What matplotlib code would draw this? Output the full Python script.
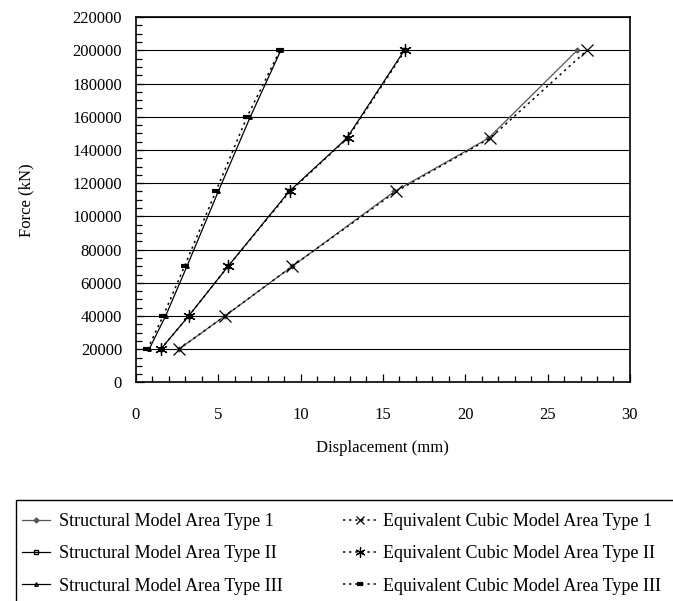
import matplotlib.pyplot as plt
from matplotlib.patches import Rectangle
from matplotlib.ticker import MultipleLocator

plt.rcParams['font.family'] = ['Liberation Serif', 'DejaVu Serif']
plt.rcParams['font.size'] = 12

# forces at each load step (kN)
force_12 = [20000, 40000, 70000, 115000, 147000, 200000]
force_3 = [20000, 40000, 70000, 115000, 160000, 200000]

# displacements (mm)
struct_1 = [2.6, 5.4, 9.5, 15.7, 21.4, 26.8]
cubic_1 = [2.6, 5.4, 9.5, 15.8, 21.5, 27.4]
struct_2 = [1.5, 3.2, 5.6, 9.3, 12.8, 16.3]
cubic_2 = [1.5, 3.2, 5.6, 9.35, 12.85, 16.35]
struct_3 = [0.8, 1.8, 3.1, 5.0, 6.95, 8.8]
cubic_3 = [0.7, 1.65, 2.95, 4.85, 6.75, 8.75]

labels = ['Structural Model Area Type 1', 'Structural Model Area Type II',
          'Structural Model Area Type III', 'Equivalent Cubic Model Area Type 1',
          'Equivalent Cubic Model Area Type II', 'Equivalent Cubic Model Area Type III']

fig = plt.figure(figsize=(6.73, 6.01), dpi=100)
ax = fig.add_axes([0.202, 0.3636, 0.734, 0.608])

dots = (0, (1.5, 2.5))
h1, = ax.plot(struct_1, force_12, '-', color='#555555', lw=0.9, marker='D', ms=2.5,
              mfc='#555555', mec='#555555', label=labels[0])
h2, = ax.plot(struct_2, force_12, '-', color='black', lw=0.9, marker='s', ms=2.5,
              mfc='none', mec='black', label=labels[1])
h3, = ax.plot(struct_3, force_3, '-', color='black', lw=0.9, marker='^', ms=2.5,
              mfc='none', mec='black', label=labels[2])
h4, = ax.plot(cubic_1, force_12, linestyle=dots, color='black', lw=1.1,
              marker='x', ms=8, mew=0.9, label=labels[3])
h5, = ax.plot(cubic_2, force_12, linestyle=dots, color='black', lw=1.1,
              marker=(6, 2, 0), ms=9, mew=0.9, label=labels[4])
h6, = ax.plot(cubic_3, force_3, linestyle=dots, color='black', lw=1.1,
              marker='_', ms=6, mew=3, label=labels[5])

ax.set_xlim(0, 30)
ax.set_ylim(0, 220000)
ax.xaxis.set_major_locator(MultipleLocator(5))
ax.xaxis.set_minor_locator(MultipleLocator(1))
ax.yaxis.set_major_locator(MultipleLocator(20000))
ax.yaxis.set_minor_locator(MultipleLocator(5000))
ax.tick_params(which='both', direction='in', top=False, right=False, width=0.9)
ax.tick_params(which='major', length=6)
ax.tick_params(which='minor', length=4)
ax.tick_params(axis='x', which='major', pad=18)
ax.tick_params(axis='y', which='major', pad=10)
ax.grid(axis='y', which='major', color='black', lw=0.8)
ax.set_axisbelow(True)
for s in ax.spines.values():
    s.set_linewidth(1.2)

ax.set_xlabel('Displacement (mm)', labelpad=12)
ax.set_ylabel('Force (kN)', labelpad=27)

# legend box runs past the right and bottom edges of the figure
fig.patches.append(Rectangle((16 / 673, -0.1), 1.0, 1 - 500 / 601 + 0.1,
                             transform=fig.transFigure, fill=False,
                             edgecolor='black', lw=1.0))
leg_top = 1 - 513 / 601
fig.legend(handles=[h1, h2, h3], loc='upper left',
           bbox_to_anchor=(22 / 673, leg_top), frameon=False,
           handlelength=1.55, handletextpad=0.5, borderaxespad=0,
           borderpad=0, labelspacing=0.85, fontsize=13)
fig.legend(handles=[h4, h5, h6], loc='upper left',
           bbox_to_anchor=(343 / 673, leg_top), frameon=False,
           handlelength=1.9, handletextpad=0.3, borderaxespad=0,
           borderpad=0, labelspacing=0.85, fontsize=13, markerscale=0.8)

plt.savefig('out.png', dpi=100)
